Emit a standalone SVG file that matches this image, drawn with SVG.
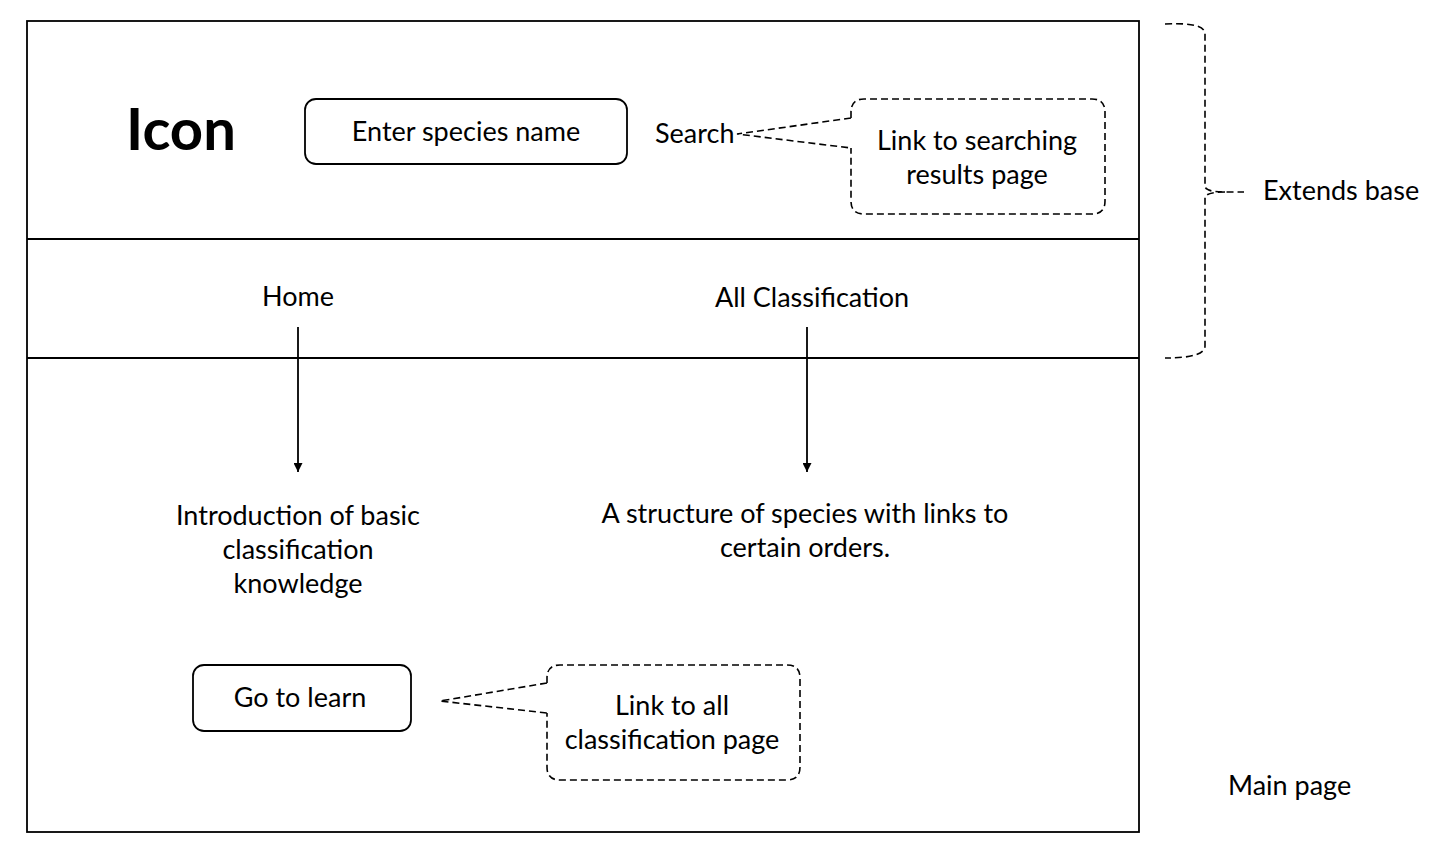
<svg xmlns="http://www.w3.org/2000/svg" width="1442" height="850" viewBox="0 0 1442 850">
<style>
text{font-family:Lato,"Open Sans","Liberation Sans",sans-serif;font-size:27px;fill:#000}
.c{text-anchor:middle}
.solid{fill:none;stroke:#000;stroke-width:1.8}
.dash{fill:none;stroke:#000;stroke-width:1.6;stroke-dasharray:7 4}
</style>
<defs>
<marker id="ah" viewBox="0 0 10 10" refX="10" refY="5" markerWidth="9" markerHeight="9" markerUnits="userSpaceOnUse" orient="auto"><path d="M0,0L10,5L0,10z" fill="#000"/></marker>
</defs>
<rect width="1442" height="850" fill="#fff"/>
<g id="page">
<rect class="solid" x="27" y="21" width="1112" height="811"/>
<line class="solid" x1="27" y1="239" x2="1139" y2="239"/>
<line class="solid" x1="27" y1="358" x2="1139" y2="358"/>
</g>
<g id="icon"><text x="181" y="150" class="c" style="font-size:58px;font-weight:bold">Icon</text></g>
<g id="search-box"><rect class="solid" x="305" y="99" width="322" height="65" rx="11"/><text x="466" y="141" class="c">Enter species name</text></g>
<g id="search"><text x="655" y="143">Search</text></g>
<g id="callout-search"><path class="dash" d="M851,118 L851,112 Q851,99 864,99 L1092,99 Q1105,99 1105,112 L1105,201 Q1105,214 1092,214 L864,214 Q851,214 851,201 L851,148 M851,118 L737,134 L851,148"/>
<text x="977" y="150" class="c">Link to searching</text><text x="977" y="184" class="c">results page</text></g>
<g id="brace"><path class="dash" d="M1165,24 Q1205,22 1205,34 L1205,186 Q1205,192 1225,192 L1244,192 M1225,192 Q1205,192 1205,198 L1205,346 Q1205,358 1165,358"/>
<text x="1263" y="200">Extends base</text></g>
<g id="home"><text x="298" y="306" class="c">Home</text></g>
<g id="allclass"><text x="812" y="307" class="c">All Classification</text></g>
<g id="home-desc"><text x="298" y="525" class="c">Introduction of basic</text><text x="298" y="559" class="c">classification</text><text x="298" y="593" class="c">knowledge</text></g>
<g id="class-desc"><text x="805" y="523" class="c">A structure of species with links to</text><text x="805" y="557" class="c">certain orders.</text></g>
<g id="go-learn"><rect class="solid" x="193" y="665" width="218" height="66" rx="11"/><text x="300" y="707" class="c">Go to learn</text></g>
<g id="callout-class"><path class="dash" d="M547,683 L547,678 Q547,665 560,665 L787,665 Q800,665 800,678 L800,767 Q800,780 787,780 L560,780 Q547,780 547,767 L547,713 M547,683 L440,701 L547,713"/>
<text x="672" y="715" class="c">Link to all</text><text x="672" y="749" class="c">classification page</text></g>
<g id="main-label"><text x="1228" y="795">Main page</text></g>
<g id="connectors">
<line class="solid" x1="298" y1="327" x2="298" y2="472" marker-end="url(#ah)"/>
<line class="solid" x1="807" y1="327" x2="807" y2="472" marker-end="url(#ah)"/>
</g>
</svg>
